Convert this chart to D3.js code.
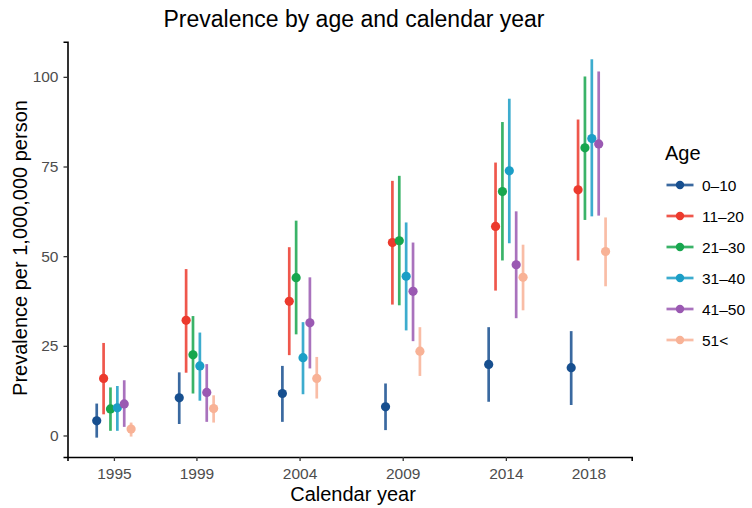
<!DOCTYPE html>
<html>
<head>
<meta charset="utf-8">
<script src="https://cdn.jsdelivr.net/npm/d3@7"></script>
<style>
  html, body { margin: 0; padding: 0; background: #fff; }
  svg { display: block; font-family: "Liberation Sans", Arial, sans-serif; }
</style>
</head>
<body>
<svg id="chart" width="752" height="508"></svg>
<script>
// Calendar years and age groups
const years = [1995, 1999, 2004, 2009, 2014, 2018];
const ageGroups = ["0\u201310", "11\u201320", "21\u201330", "31\u201340", "41\u201350", "51<"];
const ageColors = ["#174f8f", "#ec3a2d", "#17a64e", "#1b9ec6", "#9a59b2", "#f8b296"];

// Prevalence estimates (per 1,000,000) by age group, one value per year
const prevalence = [
  [4.1, 10.5, 11.7, 8.0, 19.8, 18.9],
  [15.9, 32.1, 37.4, 53.8, 58.3, 68.5],
  [7.4, 22.5, 44.0, 54.3, 68.0, 80.2],
  [7.7, 19.4, 21.7, 44.4, 73.8, 82.8],
  [8.8, 12.0, 31.4, 40.2, 47.6, 81.3],
  [1.8, 7.5, 15.9, 23.5, 44.1, 51.3]
];
const lower = [
  [-0.6, 3.2, 3.8, 1.5, 9.4, 8.5],
  [5.9, 17.5, 22.4, 36.5, 40.4, 48.8],
  [1.3, 11.7, 28.2, 36.3, 48.8, 60.1],
  [1.3, 9.7, 11.5, 29.3, 53.6, 61.1],
  [2.4, 3.8, 18.7, 26.3, 32.7, 61.3],
  [-0.3, 3.6, 10.3, 16.6, 34.9, 41.6]
];
const upper = [
  [8.9, 17.6, 19.4, 14.5, 30.2, 29.1],
  [25.8, 46.4, 52.5, 71.0, 76.1, 88.1],
  [13.4, 33.3, 59.9, 72.4, 87.4, 100.1],
  [13.8, 28.7, 31.6, 59.4, 93.9, 104.9],
  [15.4, 19.9, 44.1, 53.8, 62.5, 101.5],
  [3.6, 11.2, 21.9, 30.2, 53.2, 60.8]
];
const yTicks = [0, 25, 50, 75, 100];

const svg = d3.select("#chart");
const margin = { left: 67.5, right: 120.3, top: 41.7, bottom: 51 };
const width = 752 - margin.left - margin.right;
const height = 508 - margin.top - margin.bottom;

const g = svg.append("g").attr("transform", `translate(${margin.left},${margin.top})`);

const x = d3.scaleLinear().domain([1992.75, 2020.1]).range([0, width]);
const y = d3.scaleLinear().domain([-6, 109.8]).range([height, 0]);

// dodge: six groups spread across a 2-year width around each calendar year
const dodge = d3.scaleBand().domain(ageGroups).range([-1, 1]);
const xPos = (yr, grp) => x(yr + dodge(grp) + dodge.bandwidth() / 2);

const rows = [];
ageGroups.forEach((grp, i) => {
  years.forEach((yr, j) => {
    rows.push({ grp, i, yr, v: prevalence[i][j], lo: lower[i][j], hi: upper[i][j] });
  });
});

// error bars
g.selectAll("line.err").data(rows).join("line")
  .attr("class", "err")
  .attr("x1", d => xPos(d.yr, d.grp))
  .attr("x2", d => xPos(d.yr, d.grp))
  .attr("y1", d => y(d.lo))
  .attr("y2", d => y(d.hi))
  .attr("stroke", d => ageColors[d.i])
  .attr("stroke-opacity", 0.85)
  .attr("stroke-width", 2.7);

// point estimates
g.selectAll("circle.pt").data(rows).join("circle")
  .attr("class", "pt")
  .attr("cx", d => xPos(d.yr, d.grp))
  .attr("cy", d => y(d.v))
  .attr("r", 4.6)
  .attr("fill", d => ageColors[d.i]);

// axes
const xAxis = g.append("g").attr("transform", `translate(0,${height})`)
  .call(d3.axisBottom(x).tickValues(years).tickFormat(d3.format("d")).tickSize(4).tickPadding(6.5));
const yAxis = g.append("g")
  .call(d3.axisLeft(y).tickValues(yTicks).tickSize(4).tickPadding(5));

[xAxis, yAxis].forEach(a => {
  a.select(".domain").attr("stroke", "#000").attr("stroke-width", 1.6);
  a.selectAll(".tick line").attr("stroke", "#333").attr("stroke-width", 1.3);
  a.selectAll(".tick text").attr("fill", "#4d4d4d").style("font-size", "15.5px");
});

// titles
svg.append("text")
  .attr("x", 354).attr("y", 27)
  .attr("text-anchor", "middle")
  .style("font-size", "23px").attr("fill", "#000")
  .text("Prevalence by age and calendar year");

svg.append("text")
  .attr("x", 353).attr("y", 501)
  .attr("text-anchor", "middle")
  .style("font-size", "20px").attr("fill", "#000")
  .text("Calendar year");

svg.append("text")
  .attr("transform", "translate(27,248) rotate(-90)")
  .attr("text-anchor", "middle")
  .style("font-size", "20px").attr("fill", "#000")
  .text("Prevalence per 1,000,000 person");

// legend
const legend = svg.append("g").attr("transform", "translate(665,0)");
legend.append("text")
  .attr("x", 0).attr("y", 160)
  .style("font-size", "20px").attr("fill", "#000")
  .text("Age");

const item = legend.selectAll("g.item").data(ageGroups).join("g")
  .attr("class", "item")
  .attr("transform", (d, i) => `translate(0,${185 + i * 31})`);
item.append("line")
  .attr("x1", 1.5).attr("x2", 28.5)
  .attr("stroke", (d, i) => ageColors[i])
  .attr("stroke-opacity", 0.85)
  .attr("stroke-width", 2.7);
item.append("circle")
  .attr("cx", 15).attr("r", 4.2)
  .attr("fill", (d, i) => ageColors[i]);
item.append("text")
  .attr("x", 37).attr("y", 5.5)
  .style("font-size", "15.5px").attr("fill", "#000")
  .text(d => d);
</script>
</body>
</html>
